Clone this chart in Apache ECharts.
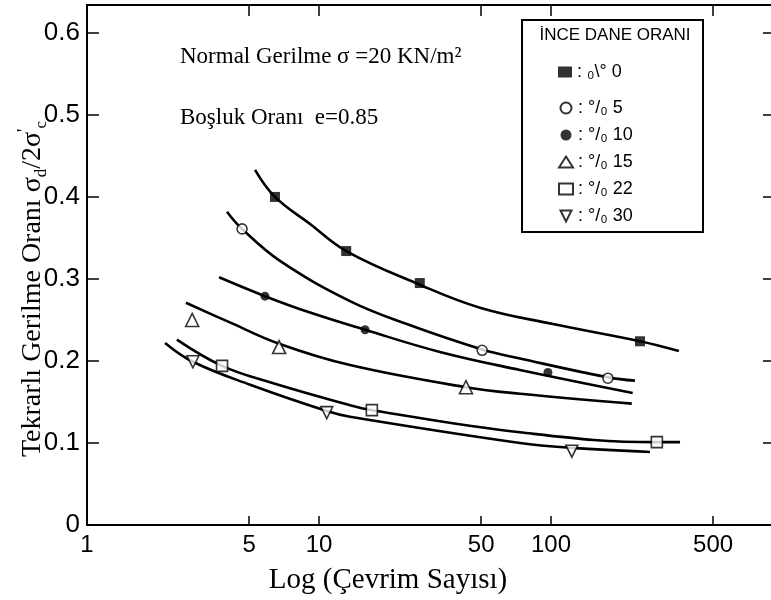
<!DOCTYPE html>
<html><head><meta charset="utf-8">
<script src="https://cdn.jsdelivr.net/npm/echarts@6/dist/echarts.min.js"></script>
<style>html,body{margin:0;padding:0;background:#fff}#c{width:771px;height:600px}</style>
</head><body><div id="c"></div>
<script>
// ---- data ----
const xTickCycles = [1, 5, 10, 50, 100, 500];
const yTicks = [0, 0.1, 0.2, 0.3, 0.4, 0.5, 0.6];
const seriesNames = ['₀\\° 0', '°/₀ 5', '°/₀ 10', '°/₀ 15', '°/₀ 22', '°/₀ 30'];

// fitted curves (cycle count N, ratio)
const curve0N = [5.3, 6.46, 9.15, 13.1, 27.2, 49.4, 102, 242, 356];
const curve0V = [0.433, 0.400, 0.367, 0.334, 0.293, 0.265, 0.245, 0.224, 0.212];
const curve5N = [4.01, 4.66, 6.79, 13.6, 23.9, 50.5, 73.5, 176, 230];
const curve5V = [0.382, 0.361, 0.322, 0.273, 0.245, 0.214, 0.203, 0.180, 0.176];
const curve10N = [3.71, 5.85, 9.15, 15.8, 33.2, 73.5, 225];
const curve10V = [0.302, 0.279, 0.259, 0.238, 0.211, 0.189, 0.161];
const curve15N = [2.67, 4.13, 6.73, 13.6, 43, 73.5, 223];
const curve15V = [0.271, 0.247, 0.221, 0.195, 0.168, 0.160, 0.148];
const curve22N = [2.44, 3.82, 6.15, 13.6, 16.9, 73.5, 286, 360];
const curve22V = [0.226, 0.194, 0.174, 0.146, 0.140, 0.113, 0.101, 0.101];
const curve30N = [2.17, 2.86, 5.05, 10.8, 13.6, 73.5, 123, 267];
const curve30V = [0.222, 0.199, 0.171, 0.139, 0.132, 0.100, 0.094, 0.089];

// measured points
const pts0N = [6.46, 13.1, 27.2, 242];
const pts0V = [0.400, 0.334, 0.295, 0.224];
const pts5N = [4.66, 50.5, 176];
const pts5V = [0.361, 0.213, 0.179];
const pts10N = [5.85, 15.8, 97];
const pts10V = [0.279, 0.238, 0.186];
const pts15N = [2.84, 6.73, 43];
const pts15V = [0.250, 0.217, 0.168];
const pts22N = [3.82, 16.9, 286];
const pts22V = [0.194, 0.140, 0.101];
const pts30N = [2.86, 10.8, 123];
const pts30V = [0.199, 0.137, 0.090];

// ---- build ----
const lg = v => Math.log10(v);
const zip = (ns, vs) => ns.map((n, i) => [lg(n), vs[i]]);
const curves = [[curve0N, curve0V], [curve5N, curve5V], [curve10N, curve10V], [curve15N, curve15V], [curve22N, curve22V], [curve30N, curve30V]];
const pts = [[pts0N, pts0V], [pts5N, pts5V], [pts10N, pts10V], [pts15N, pts15V], [pts22N, pts22V], [pts30N, pts30V]];
const open = {color: '#fff', borderColor: '#000', borderWidth: 1.6};
const filled = {color: '#000', borderColor: '#000', borderWidth: 0};
const invTri = 'path://M0,0 L10,0 L5,10 Z';
const markStyles = [
  {symbol: 'rect', symbolSize: 10, itemStyle: filled},
  {symbol: 'circle', symbolSize: 10, itemStyle: open},
  {symbol: 'circle', symbolSize: 9, itemStyle: filled},
  {symbol: 'triangle', symbolSize: 13, itemStyle: open},
  {symbol: 'rect', symbolSize: 11, itemStyle: open},
  {symbol: invTri, symbolSize: 12, itemStyle: open}
];
const series = [];
curves.forEach((c, i) => {
  series.push({type: 'line', data: zip(c[0], c[1]), smooth: 0.4, symbol: 'none', silent: true,
    lineStyle: {color: '#000', width: 2.6}, z: 2});
});
pts.forEach((p, i) => {
  series.push(Object.assign({type: 'scatter', name: seriesNames[i], data: zip(p[0], p[1]), z: 5}, markStyles[i]));
});

const xMax = Math.log10(888), yMax = 0.634;
const blk = {color: '#000', width: 2};
const legFont = {fontSize: 18, lineHeight: 20, color: '#000', fontFamily: '"Liberation Sans"'};
const legData = seriesNames.map((n, i) => i === 5 ? {name: n, icon: invTri} : {name: n});
const option = {
  animation: false,
  backgroundColor: '#fff',
  grid: {left: 87, right: 0, top: 5, bottom: 75},
  xAxis: [
    {type: 'value', position: 'bottom', min: 0, max: xMax,
      axisLine: {show: true, onZero: false, lineStyle: blk},
      axisTick: {show: true, inside: true, length: 9, customValues: xTickCycles.slice(1).map(v => lg(v)), lineStyle: {color: '#000', width: 1.5}},
      axisLabel: {customValues: xTickCycles.map(v => lg(v)), formatter: v => String(Math.round(Math.pow(10, v))), fontSize: 24, color: '#000', fontFamily: 'Liberation Sans', margin: 8},
      splitLine: {show: false}},
    {type: 'value', position: 'top', min: 0, max: xMax,
      axisLine: {show: true, onZero: false, lineStyle: blk},
      axisTick: {show: true, inside: true, length: 11, customValues: xTickCycles.slice(1).map(v => lg(v)), lineStyle: {color: '#000', width: 1.5}},
      axisLabel: {show: false}, splitLine: {show: false}}
  ],
  yAxis: [
    {type: 'value', position: 'left', min: 0, max: yMax,
      axisLine: {show: true, onZero: false, lineStyle: blk},
      axisTick: {show: true, inside: true, length: 12, customValues: yTicks, lineStyle: {color: '#000', width: 1.5}},
      axisLabel: {customValues: yTicks, formatter: v => v === 0 ? '0' : v.toFixed(1), fontSize: 26, color: '#000', fontFamily: 'Liberation Sans', margin: 7},
      splitLine: {show: false}},
    {type: 'value', position: 'right', min: 0, max: yMax,
      axisLine: {show: false, onZero: false},
      axisTick: {show: true, inside: true, length: 8, customValues: yTicks.slice(1), lineStyle: {color: '#000', width: 1.5}},
      axisLabel: {show: false}, splitLine: {show: false}}
  ],
  legend: [
    {data: legData.slice(0, 1), orient: 'vertical', left: 558, top: 62, padding: 0, itemWidth: 14, itemHeight: 11, itemGap: 7,
      formatter: ': {name}', textStyle: legFont, selectedMode: false},
    {data: legData.slice(1), orient: 'vertical', left: 558, top: 98, padding: 0, itemWidth: 14, itemHeight: 11, itemGap: 7,
      formatter: ': {name}', textStyle: legFont, selectedMode: false}
  ],
  graphic: [
    {type: 'rect', shape: {x: 522, y: 20, width: 181, height: 212}, style: {fill: 'none', stroke: '#000', lineWidth: 2}, z: 10},
    {type: 'text', x: 615, y: 35, style: {text: 'İNCE DANE ORANI', fontSize: 17, fontFamily: '"Liberation Sans"', fill: '#000', align: 'center', verticalAlign: 'middle'}, z: 10},
    {type: 'text', x: 180, y: 57, style: {text: 'Normal Gerilme σ =20 KN/m²', fontSize: 23, fontFamily: '"Liberation Serif"', fill: '#000', align: 'left', verticalAlign: 'middle'}, z: 10},
    {type: 'text', x: 180, y: 118, style: {text: 'Boşluk Oranı  e=0.85', fontSize: 23, fontFamily: '"Liberation Serif"', fill: '#000', align: 'left', verticalAlign: 'middle'}, z: 10},
    {type: 'text', x: 388, y: 580, style: {text: 'Log (Çevrim Sayısı)', fontSize: 29, fontFamily: '"Liberation Serif"', fill: '#000', align: 'center', verticalAlign: 'middle'}, z: 10},
    {type: 'text', x: 33, y: 289, rotation: Math.PI / 2,
      style: {text: 'Tekrarlı Gerilme Oranı σ{sub|d}/2σ{sup|\'}{sub|c}', fontSize: 28, lineHeight: 34, fontFamily: '"Liberation Serif"', fill: '#000', align: 'center', verticalAlign: 'middle',
        rich: {sub: {fontSize: 17, lineHeight: 17, verticalAlign: 'bottom', fontFamily: '"Liberation Serif"', fill: '#000'},
               sup: {fontSize: 19, lineHeight: 17, verticalAlign: 'top', fontFamily: '"Liberation Serif"', fill: '#000'}}}, z: 10}
  ],
  series: series
};
const chart = echarts.init(document.getElementById('c'), null, {renderer: 'canvas'});
chart.setOption(option);
</script></body></html>
